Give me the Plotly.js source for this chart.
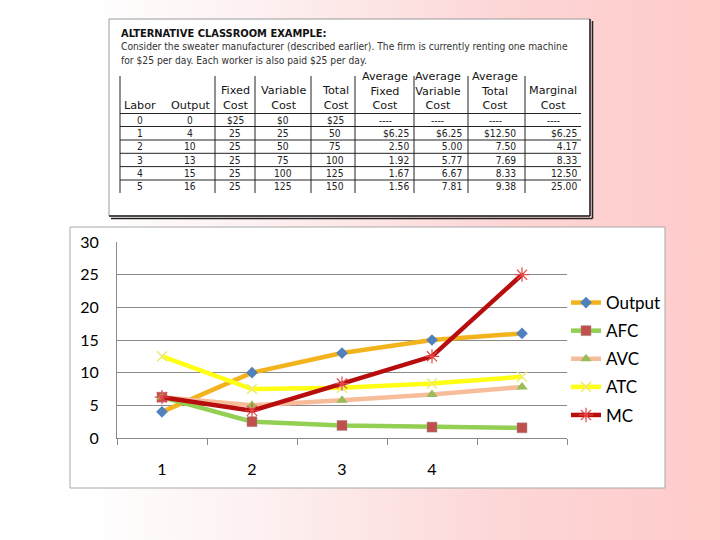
<!DOCTYPE html>
<html><head><meta charset="utf-8">
<script src="https://cdn.plot.ly/plotly-3.0.1.min.js"></script>
<style>
html,body{margin:0;padding:0;width:720px;height:540px;overflow:hidden;
background:linear-gradient(to right,#ffffff 0%,#ffffff 12%,#fdeeee 40%,#fdd6d6 70%,#ffcaca 100%);}
#chart{width:720px;height:540px;}
</style></head><body><div id="chart"></div>
<script>
// ---------- data ----------
const titleLine = 'ALTERNATIVE CLASSROOM EXAMPLE:';
const introLines = ['Consider the sweater manufacturer (described earlier). The firm is currently renting one machine',
                    'for $25 per day. Each worker is also paid $25 per day.'];
const tableHeaders = [['Labor'],['Output'],['Fixed','Cost'],['Variable','Cost'],['Total','Cost'],
                      ['Average','Fixed','Cost'],['Average','Variable','Cost'],['Average','Total','Cost'],['Marginal','Cost']];
const labor = [0,1,2,3,4,5];
const output = [0,4,10,13,15,16];
const fixedCost = [25,25,25,25,25,25];
const variableCost = [0,25,50,75,100,125];
const totalCost = [25,50,75,100,125,150];
const afc = [null,6.25,2.50,1.92,1.67,1.56];
const avc = [null,6.25,5.00,5.77,6.67,7.81];
const atc = [null,12.50,7.50,7.69,8.33,9.38];
const mc  = [null,6.25,4.17,8.33,12.50,25.00];
const chartCategories = ['1','2','3','4','5'];
const chartTickText = ['1','2','3','4',''];
const seriesNames = ['Output','AFC','AVC','ATC','MC'];

// ---------- helpers (pixel -> paper) ----------
const W = 720, H = 540;
const px = x => x / W, py = y => 1 - y / H;
const tfont = 'DejaVu Sans Condensed, DejaVu Sans, sans-serif';
const annotations = [];
const shapes = [];
function txt(text, x, y, xanchor, yanchor, align, size, color, family){
  annotations.push({xref:'paper', yref:'paper', x:px(x), y:py(y), text:text,
    showarrow:false, xanchor:xanchor, yanchor:yanchor, align:align, borderpad:0,
    font:{family:family || tfont, size:size, color:color || '#1a1a1a'}});
}
function line(x0,y0,x1,y1,color,w){
  shapes.push({type:'line', xref:'paper', yref:'paper', x0:px(x0), y0:py(y0), x1:px(x1), y1:py(y1),
    line:{color:color, width:w}, layer:'above'});
}
function rect(x0,y0,x1,y1,fill,lc,lw){
  shapes.push({type:'rect', xref:'paper', yref:'paper', x0:px(x0), y0:py(y0), x1:px(x1), y1:py(y1),
    fillcolor:fill, line:{color:lc, width:lw}, layer:'below'});
}

// ---------- table image region ----------
rect(109,19,590,216,'#ffffff','#9a9a9a',1);
line(592.5,21,592.5,218.5,'#222',1.5);
line(111,218.5,592.5,218.5,'#222',1.5);
line(590,19,590,216,'#222',1.5);
line(109,216,590,216,'#222',1.5);

txt('<span style="font-size:11px;font-weight:bold;color:#111">'+titleLine+'</span><br>'+introLines.join('<br>'),
    120,26,'left','top','left',10.2,'#333');

const colCenter = [140,190,235,283,335,385,438,495,553];
const colRight  = [null,null,null,null,null,410,463,517,578];
tableHeaders.forEach((h,c)=>{
  txt(h.join('<br>'), colCenter[c], 113, 'center', 'bottom', 'center', 11.2, '#151515', 'DejaVu Sans, sans-serif');
});
const money = (v,r)=> (r===0 ? '$'+v : String(v));
const avgFmt = (v,r)=> v===null ? '----' : (r===1 ? '$'+v.toFixed(2) : v.toFixed(2));
const columns = [labor.map(String), output.map(String), fixedCost.map(money), variableCost.map(money),
  totalCost.map(money), afc.map(avgFmt), avc.map(avgFmt), atc.map(avgFmt), mc.map(avgFmt)];
columns.forEach((cells,c)=>{
  txt(cells[0], colCenter[c], 113.5, 'center', 'top', 'center', 10, '#222');
  const rest = cells.slice(1).join('<br>');
  if (colRight[c] !== null) txt(rest, colRight[c], 127, 'right', 'top', 'right', 10.2, '#222');
  else txt(rest, colCenter[c], 127, 'center', 'top', 'center', 10.2, '#222');
});
[120,215,255,311,355,414,468,525].forEach(x=>line(x,76,x,193,'#222',1));
[113.5,126.5,140,153.3,166.6,180].forEach(y=>line(120,y,581,y,'#222',1));

// ---------- chart box ----------
rect(70,227,665,488,'#ffffff','#a8a8a8',1);

// ---------- chart traces ----------
const seriesValues = [output.slice(1), afc.slice(1), avc.slice(1), atc.slice(1), mc.slice(1)];
const lineColors = ['#F2B31C','#92CF52','#F7BD9A','#FFFF14','#B80D0D'];
const markers = [
  {symbol:'diamond', size:9, color:'#4F81BD'},
  {symbol:'square', size:10, color:'#C0504D', line:{color:'#a09090', width:0.5}},
  {symbol:'triangle-up', size:10, color:'#9BBB59'},
  {symbol:'x-thin-open', size:10, color:'#EDEA7A', line:{color:'#EDEA7A', width:1.5}},
  {symbol:'asterisk-open', size:12, color:'#E2474A', line:{color:'#E2474A', width:1.2}}
];
const traces = seriesNames.map((n,i)=>({
  type:'scatter', mode:'lines+markers', name:n, legendgroup:n, x:chartCategories, y:seriesValues[i],
  line:{color:lineColors[i], width:4.5}, marker:markers[i]
}));

const layout = {
  width:W, height:H, margin:{l:0,r:0,t:0,b:0},
  paper_bgcolor:'rgba(0,0,0,0)', plot_bgcolor:'rgba(0,0,0,0)',
  font:{family:'Lato, Liberation Sans, sans-serif', color:'#000'},
  showlegend:true,
  legend:{x:px(566), y:py(285), xanchor:'left', yanchor:'top', bgcolor:'rgba(0,0,0,0)',
          font:{size:17, color:'#000'}, itemwidth:30, tracegroupgap:3},
  xaxis:{domain:[px(117),px(567)], type:'category', range:[-0.5,4.5], anchor:'y',
         showline:true, linecolor:'#8a8a8a', linewidth:1, ticks:'outside', tickson:'boundaries',
         ticklen:6, tickcolor:'#8a8a8a', tickmode:'array', tickvals:chartCategories, ticktext:chartTickText,
         showgrid:false, zeroline:false, tickfont:{size:16}, ticklabelstandoff:17, fixedrange:true},
  yaxis:{domain:[py(438),py(242)], range:[0,30], dtick:5, tick0:0, showgrid:true, gridcolor:'#8a8a8a',
         gridwidth:1, showline:true, linecolor:'#8a8a8a', zeroline:false, ticks:'',
         tickfont:{size:16}, ticklabelstandoff:14, fixedrange:true},
  shapes:shapes, annotations:annotations
};
Plotly.newPlot('chart', traces, layout, {staticPlot:true, displayModeBar:false});
</script></body></html>
